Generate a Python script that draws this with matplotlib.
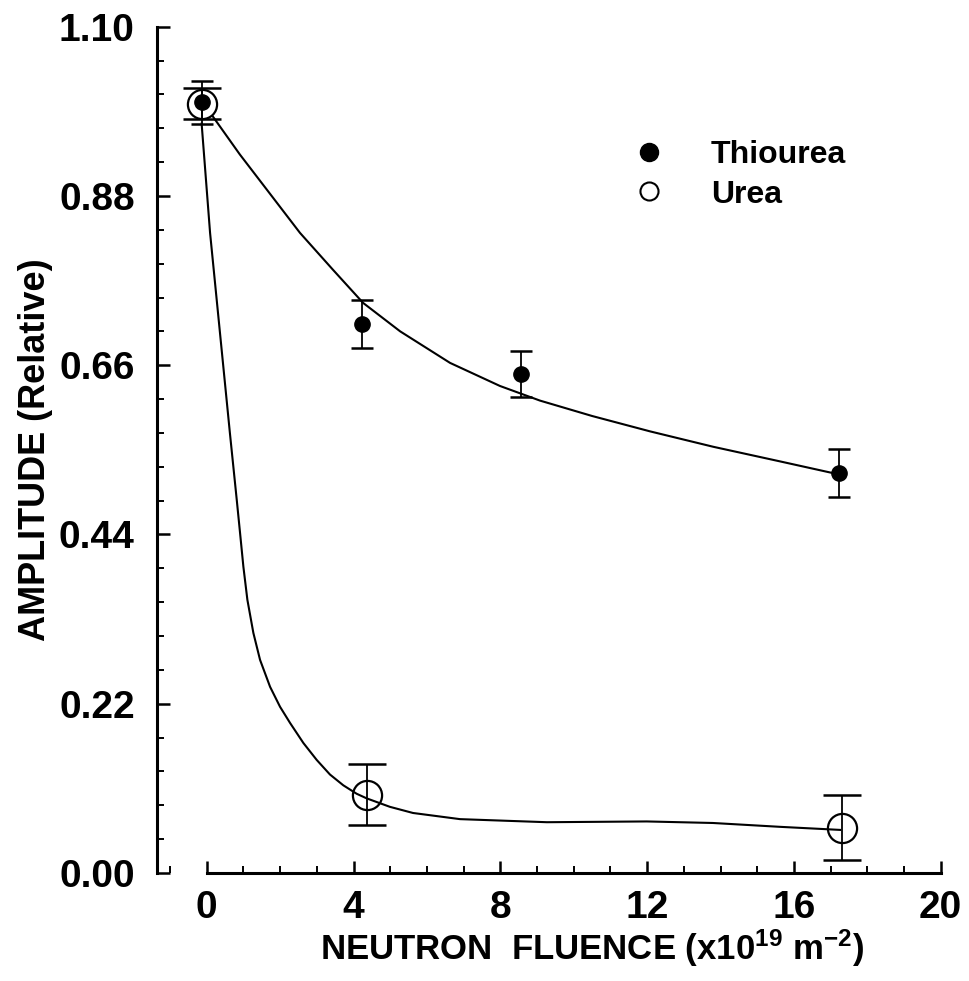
import matplotlib
matplotlib.use("Agg")
import matplotlib.pyplot as plt
from matplotlib.ticker import FixedLocator, MultipleLocator
from matplotlib.lines import Line2D

plt.rcParams['font.family'] = ['Liberation Sans', 'DejaVu Sans']
plt.rcParams['font.weight'] = 'bold'
plt.rcParams['mathtext.default'] = 'regular'

# measured points (fluence in 1e19 m^-2, relative amplitude)
thiourea_x = [-0.14, 4.24, 8.55, 17.23]
thiourea_y = [1.002, 0.714, 0.649, 0.520]
thiourea_err = [0.028, 0.031, 0.030, 0.031]

urea_x = [-0.14, 4.36, 17.32]
urea_y = [1.000, 0.102, 0.059]
urea_err = [0.020, 0.040, 0.042]

# fitted curves
thiourea_fit_x = [0.17, 0.9, 1.64, 2.54, 3.44, 4.26, 5.27, 6.63, 7.99, 9.08, 10.5,
                  12.08, 13.8, 15.62, 17.04]
thiourea_fit_y = [0.983, 0.934, 0.888, 0.832, 0.784, 0.741, 0.704, 0.663, 0.633, 0.614, 0.594,
                  0.574, 0.554, 0.535, 0.520]

urea_fit_x = [-0.14, 0.09, 0.36, 0.63, 0.817, 0.907, 0.998, 1.107, 1.270, 1.452, 1.725,
              1.997, 2.270, 2.632, 2.995, 3.357, 3.720, 4.084, 4.357, 4.99, 5.62, 6.90,
              9.27, 11.99, 13.79, 15.62, 17.26]
urea_fit_y = [0.974, 0.832, 0.702, 0.572, 0.485, 0.442, 0.398, 0.355, 0.312, 0.277, 0.242,
              0.216, 0.195, 0.169, 0.147, 0.128, 0.114, 0.103, 0.097, 0.086, 0.078, 0.070,
              0.066, 0.067, 0.065, 0.060, 0.056]

y_ticks = [0.00, 0.22, 0.44, 0.66, 0.88, 1.10]
x_ticks = [0, 4, 8, 12, 16, 20]

fig = plt.figure(figsize=(9.7, 9.81), dpi=100)
ax = fig.add_axes([0.1619, 0.1101, 0.8079, 0.8627])

ax.plot(thiourea_fit_x, thiourea_fit_y, color='black', lw=1.5, zorder=2)
ax.plot(urea_fit_x, urea_fit_y, color='black', lw=1.5, zorder=2)

ax.errorbar(thiourea_x, thiourea_y, yerr=thiourea_err, fmt='none', ecolor='black',
            elinewidth=1.3, capsize=8, capthick=1.8, zorder=3)
ax.errorbar(urea_x, urea_y, yerr=urea_err, fmt='none', ecolor='black',
            elinewidth=1.3, capsize=14, capthick=1.8, zorder=3)

ax.plot(urea_x, urea_y, 'o', ms=21, mfc='none', mec='black', mew=1.6, zorder=4)
ax.plot(thiourea_x, thiourea_y, 'o', ms=11, mfc='black', mec='black', zorder=5)

ax.set_xlim(-1.355, 20)
ax.set_ylim(0, 1.10)

ax.spines['top'].set_visible(False)
ax.spines['right'].set_visible(False)
ax.spines['left'].set_linewidth(2.2)
ax.spines['bottom'].set_linewidth(2.2)
ax.spines['bottom'].set_bounds(0, 20)
ax.spines['left'].set_bounds(0, 1.10)

ax.xaxis.set_major_locator(FixedLocator(x_ticks))
ax.xaxis.set_minor_locator(MultipleLocator(1))
ax.yaxis.set_major_locator(FixedLocator(y_ticks))
ax.yaxis.set_minor_locator(MultipleLocator(0.044))
ax.set_yticklabels(["%.2f" % v for v in y_ticks])
ax.set_xticklabels([str(v) for v in x_ticks])

ax.tick_params(which='major', direction='in', length=9, width=1.8, labelsize=28)
ax.tick_params(which='minor', direction='in', length=5, width=1.4)
ax.tick_params(axis='y', which='major', pad=16)
ax.tick_params(axis='x', which='major', pad=12)

ax.set_xlabel("NEUTRON  FLUENCE (x10$^{19}$ m$^{-2}$)", fontsize=25, fontweight='bold')
ax.xaxis.set_label_coords(0.555, -0.064)
ax.set_ylabel("AMPLITUDE (Relative)", fontsize=26, fontweight='bold')
ax.yaxis.set_label_coords(-0.133, 0.5)

handles = [Line2D([], [], ls='none', marker='o', ms=13, mfc='black', mec='black'),
           Line2D([], [], ls='none', marker='o', ms=13, mfc='none', mec='black', mew=1.5)]
ax.legend(handles, ['Thiourea', 'Urea'], loc='upper left', bbox_to_anchor=(0.607, 0.866),
          frameon=False, fontsize=23, borderpad=0, handlelength=1.0, handletextpad=1.45,
          labelspacing=0.3, borderaxespad=0)

fig.savefig("out.png", dpi=100)
